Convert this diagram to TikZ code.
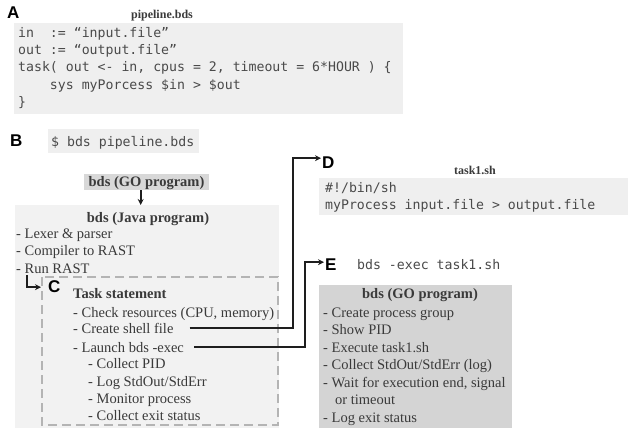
\documentclass[tikz,border=0pt]{standalone}
\usepackage{fontspec}
\setmainfont{Liberation Serif}
\setsansfont{Liberation Sans}
\setmonofont{DejaVu Sans Mono}
\usetikzlibrary{arrows.meta,calc}
\definecolor{boxlight}{HTML}{EFEFEF}
\definecolor{javabox}{HTML}{F2F2F2}
\definecolor{gobox}{HTML}{D8D8D8}
\definecolor{ebox}{HTML}{D4D4D4}
\definecolor{dashgray}{HTML}{B4B4B4}
\definecolor{txtgray}{HTML}{3A3A3A}
\definecolor{codegray}{HTML}{4A4A4A}
\definecolor{linec}{HTML}{1E1E1E}
\begin{document}
\begin{tikzpicture}[x=1pt,y=-1pt,
  lab/.style={anchor=base west,inner sep=0pt,font=\sffamily\bfseries\fontsize{17}{17}\selectfont,text=black},
  code/.style={anchor=base west,inner sep=0pt,font=\ttfamily\fontsize{13.2}{17}\selectfont,text=codegray},
  item/.style={anchor=base west,inner sep=0pt,font=\fontsize{14.5}{17}\selectfont,text=txtgray},
  ttl/.style={anchor=base,inner sep=0pt,font=\bfseries\fontsize{14.5}{17}\selectfont,text=txtgray},
  smallttl/.style={anchor=base,inner sep=0pt,font=\bfseries\fontsize{12}{14}\selectfont,text=txtgray},
  bg/.style={anchor=north west,inner sep=0pt,draw=none},
  conn/.style={line width=2pt,draw=linec,-{Stealth[length=6pt,width=6pt]},shorten >=1pt}]
\useasboundingbox (0,0) rectangle (630,429);
\fill[white] (0,0) rectangle (630,429);

% ---------- A ----------
\node[bg,fill=boxlight,minimum width=389pt,minimum height=91pt] (boxA) at (14,23) {};
\node[lab] (Alab) at (7,18) {A};
\node[smallttl] (Attl) at (162,18) {pipeline.bds};
\node[code] (a1) at (18,37.5) {in\ \ := “input.file”};
\node[code] (a2) at (18,54.7) {out := “output.file”};
\node[code] (a3) at (18,71.9) {task( out <- in, cpus = 2, timeout = 6*HOUR ) \{};
\node[code] (a4) at (18,89.1) {\ \ \ \ sys myPorcess \$in > \$out};
\node[code] (a5) at (18,106.3) {\}};

% ---------- B ----------
\node[lab] (Blab) at (10,146) {B};
\node[bg,fill=boxlight,minimum width=151pt,minimum height=24pt] (cmdbox) at (48,129) {};
\node[code] (cmd) at (51,146) {\$ bds pipeline.bds};
\node[bg,fill=gobox,minimum width=125pt,minimum height=16pt] (gobx) at (84,174) {};
\node[ttl] (gottl) at (146.5,186.5) {bds (GO program)};
\node[bg,fill=javabox,minimum width=264pt,minimum height=223pt] (java) at (15,205) {};
\draw[line width=1.8pt,draw=linec,-{Stealth[length=6pt,width=6pt]}] ([xshift=-6pt]gobx.south) -- ([xshift=-6pt]gobx.south |- java.north);
\node[ttl] (jttl) at (148,222) {bds (Java program)};
\node[item] (j1) at (16,238) {- Lexer \& parser};
\node[item] (j2) at (16,255.5) {- Compiler to RAST};
\node[item] (j3) at (16,273) {- Run RAST};

% ---------- C ----------
\draw[dashgray,line width=1.5pt,dash pattern=on 9pt off 5pt] (42,277) rectangle (278,425);
\node[lab] (Clab) at (48,292) {C};
\coordinate (rr) at (27,275);
\draw[line width=2pt,draw=linec,-{Stealth[length=6pt,width=6pt]}] (rr) |- ([xshift=-7pt,yshift=-1pt]Clab.west);
\node[ttl,anchor=base west] (cttl) at (73,298) {Task statement};
\node[item] (c1) at (73,317) {- Check resources (CPU, memory)};
\node[item] (c2) at (73,333) {- Create shell file};
\node[item] (c3) at (73,352) {- Launch bds -exec};
\node[item] (c4) at (88,368) {- Collect PID};
\node[item] (c5) at (88,386.5) {- Log StdOut/StdErr};
\node[item] (c6) at (88,403) {- Monitor process};
\node[item] (c7) at (88,420) {- Collect exit status};

% ---------- D ----------
\node[lab] (Dlab) at (322,168) {D};
\node[smallttl] (Dttl) at (475,174) {task1.sh};
\node[bg,fill=boxlight,minimum width=309pt,minimum height=37pt] (boxD) at (319,178) {};
\node[code] (d1) at (325,192.5) {\#!/bin/sh};
\node[code] (d2) at (325,209.5) {myProcess input.file > output.file};

% ---------- E ----------
\node[lab] (Elab) at (325,270) {E};
\node[code] (ecmd) at (357,269) {bds -exec task1.sh};
\node[bg,fill=ebox,minimum width=193pt,minimum height=143pt] (boxE) at (319,285) {};
\node[ttl] (ettl) at (420,298) {bds (GO program)};
\node[item] (e1) at (323,317) {- Create process group};
\node[item] (e2) at (323,334) {- Show PID};
\node[item] (e3) at (323,352) {- Execute task1.sh};
\node[item] (e4) at (323,369) {- Collect StdOut/StdErr (log)};
\node[item] (e5) at (323,387) {- Wait for execution end, signal};
\node[item] (e6) at (335,404) {or timeout};
\node[item] (e7) at (323,422) {- Log exit status};

% ---------- connectors ----------
\draw[conn] ([xshift=16pt]c2.east) -| ([xshift=-29pt,yshift=4pt]Dlab.west) -- ([yshift=4pt]Dlab.west);
\draw[conn] ([xshift=10pt]c3.east) -| ([xshift=-20pt,yshift=2pt]Elab.west) -- ([yshift=2pt]Elab.west);
\end{tikzpicture}
\end{document}
